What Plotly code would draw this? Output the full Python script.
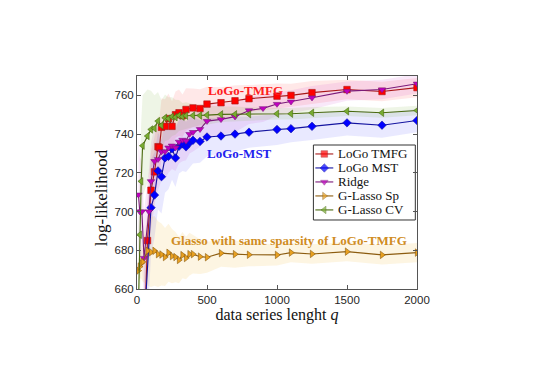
import numpy as np
import plotly.graph_objects as go

# LoGo TMFG
tmfg_q = [50, 75, 100, 125, 150, 160, 175, 200, 225, 250, 275, 300, 325, 350, 400, 450,
          500, 600, 700, 800, 1000, 1100, 1250, 1500, 1750, 2000]
tmfg_y = [630, 685, 711, 720.5, 733.5, 733, 743.5, 744, 748, 744, 750, 751, 749.5, 752.7, 753.5, 753.2,
          755.5, 756.2, 757.2, 758.3, 759.6, 760, 761.4, 763, 762, 764]
tmfg_sd = [25, 22, 20, 18, 16, 15, 15, 14, 13, 13, 12, 12, 11, 11, 10, 10,
           9, 8, 8, 7, 6.5, 6, 6, 5, 5, 5]

# LoGo MST
mst_q = [50, 100, 125, 150, 175, 200, 225, 250, 275, 300, 325, 350, 375, 400, 450,
         500, 600, 700, 800, 1000, 1100, 1250, 1500, 1750, 2000]
mst_y = [640, 702, 708.5, 721, 718, 727.7, 728.5, 732.4, 727.7, 733.7, 735, 733.4, 735.5, 736.8, 736.2,
         738.5, 739, 740, 741, 742.4, 742.8, 744, 745.8, 744.6, 747]
mst_sd = [30, 25, 22, 20, 19, 18, 17, 16, 15, 14, 14, 13, 13, 12, 11,
          10, 9, 9, 8, 8, 7, 7, 6.5, 6.5, 6]

# Ridge
ridge_q = [10, 20, 35, 50, 85, 100, 125, 150, 175, 200, 225, 250, 275, 300, 325, 350, 375, 400, 450,
           500, 600, 700, 800, 900, 1000, 1100, 1250, 1500, 1750, 2000]
ridge_y = [708.7, 700, 700, 676, 700, 715.6, 726, 727, 731, 731, 733, 734, 733, 736, 737, 736.5, 740, 741, 742.5,
           746.7, 747.6, 749, 752.2, 753.3, 755.5, 756.7, 758.8, 762.2, 763, 766]
ridge_sd = [30, 28, 26, 24, 22, 20, 18, 16, 15, 14, 13, 12, 12, 11, 11, 10, 10, 10, 9,
            9, 8, 8, 7, 7, 6, 6, 6, 5, 5, 5]

# G-Lasso with same sparsity
sp_q = [10, 20, 30, 40, 75, 100, 125, 150, 175, 200, 225, 250, 275, 300, 325, 350, 375, 400, 450,
        500, 600, 700, 800, 1000, 1100, 1250, 1500, 1750, 2000]
sp_y = [669.5, 671.6, 673.3, 674, 679.7, 679, 679.7, 678, 677.8, 676.5, 678.7, 677, 676.5, 675, 677.5, 676, 678, 678, 676.7,
        676.4, 678.5, 678, 677.7, 677.6, 678.8, 678.1, 679.3, 677.6, 678.8]
sp_sd = [6, 6, 8, 10, 18, 18, 18, 17, 16, 15, 15, 14, 13, 12, 12, 11, 11, 10, 9,
         8, 7, 7, 6, 5.5, 5, 5, 5, 5, 5]

# G-Lasso CV
cv_q = [10, 20, 30, 40, 75, 100, 125, 150, 175, 200, 225, 250, 275, 300, 325, 350, 400, 450,
        500, 600, 700, 800, 1000, 1100, 1250, 1500, 1750, 2000]
cv_y = [650, 688, 715.6, 734, 739, 742.4, 743, 746.7, 744.5, 748.4, 748, 749, 748.7, 749.6, 749, 749.5, 749.6, 749.6,
        749.8, 750.2, 750.2, 750.3, 750.5, 750.5, 751, 751.8, 751, 752.2]
cv_sd = [40, 35, 30, 26, 24, 20, 17, 15, 13, 12, 11, 10, 9, 8, 7, 7, 6, 5,
         5, 4, 4, 3.5, 3, 3, 3, 2.5, 2.5, 2.5]

series = [
    ("LoGo TMFG", tmfg_q, tmfg_y, tmfg_sd, "#a81818", "#ff0000", "square", "rgba(255,0,0,0.09)"),
    ("LoGo MST", mst_q, mst_y, mst_sd, "#1414a0", "#0000ff", "diamond", "rgba(40,40,255,0.10)"),
    ("Ridge", ridge_q, ridge_y, ridge_sd, "#7a1a7a", "#c000c0", "triangle-down", "rgba(190,0,190,0.09)"),
    ("G-Lasso Sp", sp_q, sp_y, sp_sd, "#8c5c10", "#e8a020", "triangle-right", "rgba(237,177,32,0.13)"),
    ("G-Lasso CV", cv_q, cv_y, cv_sd, "#4a6a10", "#77ac30", "triangle-left", "rgba(119,172,48,0.12)"),
]

serif = "Liberation Serif"
fig = go.Figure()

# shaded bands first
for name, q, y, sd, lc, mc, sym, fc in series:
    y = np.array(y); sd = np.array(sd)
    fig.add_trace(go.Scatter(x=list(q) + list(q)[::-1],
                             y=list(y + sd) + list((y - sd)[::-1]),
                             fill="toself", fillcolor=fc, line=dict(width=0),
                             mode="lines", showlegend=False, hoverinfo="skip"))

for name, q, y, sd, lc, mc, sym, fc in series:
    fig.add_trace(go.Scatter(x=q, y=y, name=name, mode="lines+markers", showlegend=False,
                             line=dict(color=lc, width=1.1),
                             marker=dict(symbol=sym, size=6.5, color=mc,
                                         line=dict(color=lc, width=0.6))))

# MATLAB-style compact legend drawn on an overlay axis (0..1 over the plot area)
lg_x0, lg_x1, lg_y0, lg_y1 = 0.630, 0.994, 0.324, 0.676
fig.add_trace(go.Scatter(x=[lg_x0, lg_x1, lg_x1, lg_x0, lg_x0], y=[lg_y0, lg_y0, lg_y1, lg_y1, lg_y0],
                         xaxis="x2", yaxis="y2", mode="lines", fill="toself", fillcolor="white",
                         line=dict(color="#333333", width=1), showlegend=False, hoverinfo="skip"))
for i, (name, q, y, sd, lc, mc, sym, fc) in enumerate(series):
    ly = 0.634 - i * 0.0657
    fig.add_trace(go.Scatter(x=[0.637, 0.669, 0.701], y=[ly, ly, ly], xaxis="x2", yaxis="y2",
                             mode="lines+markers", showlegend=False, hoverinfo="skip",
                             line=dict(color=lc, width=1.1),
                             marker=dict(symbol=sym, size=[0, 6.5, 0], color=mc,
                                         line=dict(color=lc, width=0.6))))
    fig.add_annotation(x=0.709, y=ly, xref="x2", yref="y2", text=name, showarrow=False,
                       xanchor="left", yanchor="middle",
                       font=dict(family=serif, size=13, color="#111111"))

fig.add_annotation(x=774, y=762.4, text="<b>LoGo-TMFG</b>", showarrow=False,
                   font=dict(family=serif, size=13, color="#ff2020"))
fig.add_annotation(x=731, y=730.2, text="<b>LoGo-MST</b>", showarrow=False,
                   font=dict(family=serif, size=13, color="#2222ee"))
fig.add_annotation(x=1084, y=684.9, text="<b>Glasso with same sparsity of LoGo-TMFG</b>", showarrow=False,
                   font=dict(family=serif, size=13, color="#d08c22"))

# y label placed like the original (slightly below the axis centre)
fig.add_annotation(x=-0.126, y=0.43, xref="paper", yref="paper", text="log-likelihood",
                   textangle=-90, showarrow=False, xanchor="center", yanchor="middle",
                   font=dict(family=serif, size=17, color="#111111"))

axis_common = dict(showline=True, linecolor="#555555", linewidth=1, mirror="ticks",
                   ticks="inside", ticklen=4, tickcolor="#555555", showgrid=False, zeroline=False,
                   tickfont=dict(family="Liberation Sans", size=11.5, color="#262626"))

fig.update_xaxes(range=[0, 2000], tickvals=[0, 500, 1000, 1500, 2000],
                 title=dict(text="data series lenght <i>q</i>", standoff=4,
                            font=dict(family=serif, size=16, color="#111111")),
                 **axis_common)
fig.update_yaxes(range=[660, 770], tickvals=[660, 680, 700, 720, 740, 760], **axis_common)

fig.update_layout(width=540, height=382, margin=dict(l=129, r=131, t=68, b=101),
                  plot_bgcolor="white", paper_bgcolor="white", showlegend=False,
                  xaxis2=dict(overlaying="x", range=[0, 1], visible=False, fixedrange=True),
                  yaxis2=dict(overlaying="y", range=[0, 1], visible=False, fixedrange=True))

fig.write_html("out.html")
